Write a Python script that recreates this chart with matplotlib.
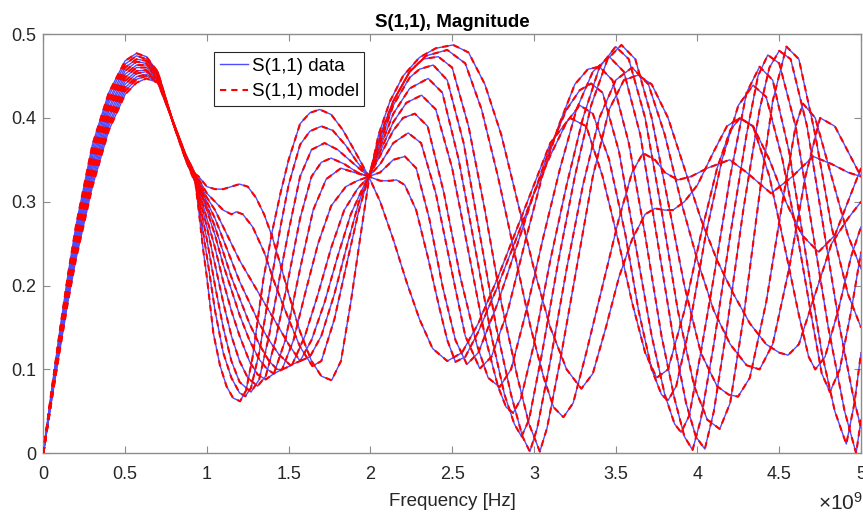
import matplotlib
matplotlib.use("Agg")
import matplotlib.pyplot as plt
from matplotlib.ticker import FuncFormatter, MultipleLocator

plt.rcParams['font.family'] = ['Liberation Sans', 'DejaVu Sans']
plt.rcParams['mathtext.fontset'] = 'custom'
plt.rcParams['mathtext.rm'] = 'Liberation Sans'
plt.rcParams['mathtext.it'] = 'Liberation Sans:italic'

# Frequencies in GHz, |S11| values for each of the eleven cases
f_c0 = [0, .05, .1, .15, .2, .3, .4, .5, .57, .63, .7, .8, .87, .93, .95, .978, 1.0, 1.04, 1.08, 1.12, 1.16, 1.203, 1.24, 1.28, 1.345, 1.4, 1.45, 1.5, 1.57, 1.63, 1.69, 1.76, 1.83, 1.9, 1.99, 2.06, 2.14, 2.22, 2.3, 2.38, 2.47, 2.56, 2.66, 2.78, 2.9, 3.0, 3.1, 3.22, 3.32, 3.42, 3.52, 3.6, 3.68, 3.75, 3.82, 3.92, 4.02, 4.12, 4.2, 4.26, 4.34, 4.44, 4.54, 4.62, 4.68, 4.72, 4.78, 4.86, 4.94, 5.0]
s_c0 = [0, .074, .145, .212, .272, .368, .430, .468, .477, .473, .455, .39, .35, .322, .29, .242, .21, .143, .105, .08, .066, .062, .075, .115, .207, .265, .31, .35, .393, .406, .41, .404, .386, .362, .33, .30, .255, .205, .16, .125, .11, .12, .155, .21, .27, .32, .37, .40, .39, .33, .25, .18, .12, .09, .1, .17, .26, .34, .385, .40, .39, .33, .24, .165, .115, .10, .115, .17, .235, .27]

f_c1 = [0, .05, .1, .15, .2, .3, .4, .5, .57, .63, .7, .8, .87, .93, .95, 1.0, 1.05, 1.1, 1.15, 1.2, 1.235, 1.27, 1.32, 1.38, 1.45, 1.5, 1.57, 1.63, 1.70, 1.77, 1.85, 1.92, 1.99, 2.06, 2.12, 2.16, 2.21, 2.28, 2.35, 2.42, 2.47, 2.52, 2.58, 2.66, 2.78, 2.9, 3.0, 3.1, 3.2, 3.28, 3.36, 3.46, 3.56, 3.64, 3.72, 3.78, 3.82, 3.87, 3.95, 4.05, 4.15, 4.25, 4.34, 4.42, 4.52, 4.62, 4.7, 4.76, 4.81, 4.87, 4.94, 5.0]
s_c1 = [0, .073, .143, .209, .268, .363, .426, .464, .474, .470, .454, .39, .351, .324, .298, .235, .17, .12, .09, .072, .068, .078, .12, .19, .27, .32, .368, .384, .39, .385, .367, .347, .33, .325, .325, .326, .32, .29, .235, .175, .135, .109, .115, .145, .2, .26, .31, .355, .395, .415, .405, .35, .26, .17, .1, .07, .063, .08, .15, .26, .35, .415, .439, .425, .35, .25, .16, .095, .073, .1, .17, .24]

f_c2 = [0, .05, .1, .15, .2, .3, .4, .5, .57, .63, .7, .8, .87, .93, .95, 1.0, 1.05, 1.1, 1.15, 1.2, 1.27, 1.32, 1.38, 1.45, 1.5, 1.57, 1.64, 1.72, 1.8, 1.9, 1.99, 2.06, 2.14, 2.211, 2.28, 2.36, 2.44, 2.52, 2.59, 2.66, 2.78, 2.9, 3.0, 3.1, 3.2, 3.28, 3.35, 3.42, 3.52, 3.62, 3.72, 3.8, 3.86, 3.90, 3.95, 4.02, 4.1, 4.2, 4.3, 4.38, 4.46, 4.56, 4.66, 4.76, 4.84, 4.91, 4.96, 5.0]
s_c2 = [0, .072, .140, .206, .264, .358, .421, .460, .470, .468, .452, .39, .352, .325, .305, .255, .2, .15, .11, .085, .073, .088, .14, .215, .265, .33, .362, .37, .362, .345, .33, .335, .35, .354, .34, .28, .2, .135, .106, .12, .18, .25, .31, .365, .41, .433, .441, .43, .36, .25, .14, .07, .035, .025, .045, .12, .21, .33, .43, .461, .445, .36, .24, .12, .05, .011, .06, .12]

f_c3 = [0, .05, .1, .15, .2, .3, .4, .5, .57, .63, .7, .8, .87, .93, .95, 1.0, 1.05, 1.1, 1.15, 1.2, 1.25, 1.31, 1.36, 1.42, 1.5, 1.57, 1.64, 1.7, 1.76, 1.84, 1.92, 1.99, 2.06, 2.14, 2.231, 2.31, 2.4, 2.5, 2.58, 2.669, 2.74, 2.84, 2.95, 3.05, 3.15, 3.25, 3.33, 3.40, 3.48, 3.58, 3.68, 3.78, 3.86, 3.92, 3.97, 4.02, 4.1, 4.2, 4.3, 4.37, 4.43, 4.5, 4.6, 4.7, 4.8, 4.9, 4.97, 5.0]
s_c3 = [0, .070, .138, .202, .260, .353, .417, .456, .467, .465, .451, .391, .353, .326, .31, .27, .225, .18, .14, .11, .09, .08, .092, .135, .21, .28, .33, .347, .352, .345, .335, .33, .345, .37, .382, .37, .31, .215, .14, .101, .115, .17, .255, .33, .39, .44, .458, .461, .445, .37, .26, .14, .065, .02, .004, .04, .13, .26, .38, .45, .475, .465, .39, .27, .15, .05, .0, .04]

f_c4 = [0, .05, .1, .15, .2, .3, .4, .5, .57, .63, .7, .8, .87, .93, .95, 1.0, 1.05, 1.1, 1.15, 1.2, 1.26, 1.31, 1.36, 1.41, 1.48, 1.57, 1.65, 1.73, 1.82, 1.9, 1.99, 2.06, 2.14, 2.2, 2.272, 2.35, 2.45, 2.55, 2.65, 2.72, 2.79, 2.86, 2.96, 3.06, 3.16, 3.26, 3.36, 3.46, 3.55, 3.65, 3.75, 3.85, 3.93, 3.99, 4.045, 4.1, 4.18, 4.28, 4.38, 4.44, 4.5, 4.57, 4.67, 4.77, 4.87, 4.95, 5.0]
s_c4 = [0, .069, .136, .199, .256, .348, .412, .452, .463, .463, .450, .391, .353, .327, .315, .28, .245, .205, .17, .14, .11, .094, .088, .095, .135, .22, .29, .327, .34, .335, .33, .355, .385, .4, .405, .39, .31, .21, .13, .09, .079, .1, .175, .26, .34, .41, .455, .473, .455, .38, .26, .14, .06, .02, .005, .05, .15, .29, .41, .46, .48, .47, .39, .27, .15, .07, .03]

f_c5 = [0, .05, .1, .15, .2, .3, .4, .5, .57, .63, .7, .8, .87, .93, .95, 1.0, 1.05, 1.1, 1.15, 1.2, 1.26, 1.32, 1.37, 1.41, 1.46, 1.53, 1.6, 1.68, 1.76, 1.85, 1.92, 1.99, 2.06, 2.14, 2.22, 2.313, 2.4, 2.5, 2.6, 2.7, 2.78, 2.83, 2.873, 2.92, 3.0, 3.1, 3.2, 3.3, 3.4, 3.5, 3.58, 3.68, 3.78, 3.88, 3.98, 4.06, 4.136, 4.2, 4.28, 4.38, 4.46, 4.544, 4.62, 4.72, 4.82, 4.92, 5.0]
s_c5 = [0, .068, .134, .196, .252, .343, .408, .448, .460, .460, .449, .391, .354, .328, .318, .29, .26, .225, .195, .165, .135, .112, .1, .095, .1, .135, .19, .25, .295, .318, .325, .33, .36, .395, .418, .427, .41, .34, .24, .14, .08, .055, .048, .065, .13, .23, .32, .4, .46, .485, .47, .4, .29, .17, .08, .04, .029, .06, .16, .31, .42, .485, .47, .38, .27, .19, .15]

f_c6 = [0, .05, .1, .15, .2, .3, .4, .5, .57, .63, .7, .8, .87, .93, .95, 1.0, 1.05, 1.1, 1.15, 1.2, 1.26, 1.32, 1.38, 1.43, 1.46, 1.52, 1.6, 1.68, 1.76, 1.84, 1.92, 1.99, 2.06, 2.14, 2.24, 2.353, 2.44, 2.54, 2.64, 2.74, 2.82, 2.88, 2.924, 2.97, 3.05, 3.15, 3.25, 3.35, 3.45, 3.535, 3.62, 3.72, 3.82, 3.92, 4.02, 4.12, 4.19, 4.248, 4.32, 4.42, 4.52, 4.6, 4.645, 4.72, 4.82, 4.92, 5.0]
s_c6 = [0, .067, .131, .193, .248, .338, .403, .444, .456, .457, .447, .391, .354, .329, .32, .295, .27, .24, .21, .185, .155, .13, .11, .1, .1, .105, .14, .19, .245, .29, .315, .33, .365, .405, .435, .447, .43, .35, .245, .14, .07, .035, .02, .04, .12, .23, .33, .415, .47, .487, .47, .4, .3, .2, .12, .08, .07, .0675, .09, .18, .3, .39, .417, .4, .33, .26, .22]

f_c7 = [0, .05, .1, .15, .2, .3, .4, .5, .57, .63, .7, .8, .87, .93, .95, 1.0, 1.05, 1.1, 1.15, 1.2, 1.26, 1.32, 1.38, 1.44, 1.51, 1.57, 1.64, 1.72, 1.8, 1.88, 1.95, 1.99, 2.06, 2.14, 2.24, 2.3, 2.384, 2.47, 2.57, 2.67, 2.77, 2.86, 2.93, 2.975, 3.02, 3.1, 3.2, 3.3, 3.4, 3.5, 3.6, 3.7, 3.8, 3.9, 4.0, 4.1, 4.2, 4.3, 4.38, 4.46, 4.56, 4.66, 4.75, 4.84, 4.92, 5.0]
s_c7 = [0, .066, .129, .190, .244, .333, .399, .440, .453, .455, .446, .391, .355, .33, .322, .3, .28, .255, .23, .205, .18, .155, .135, .118, .105, .11, .135, .18, .235, .285, .315, .33, .37, .415, .448, .458, .463, .445, .37, .26, .15, .07, .02, .002, .03, .11, .22, .32, .4, .445, .46, .44, .38, .3, .23, .17, .13, .105, .1, .13, .22, .33, .40, .39, .36, .33]

f_c8 = [0, .05, .1, .15, .2, .3, .4, .5, .57, .63, .7, .8, .87, .93, .95, 1.0, 1.05, 1.1, 1.15, 1.2, 1.26, 1.32, 1.38, 1.44, 1.5, 1.57, 1.63, 1.7, 1.78, 1.86, 1.93, 1.99, 2.06, 2.14, 2.24, 2.32, 2.415, 2.5, 2.6, 2.7, 2.8, 2.9, 2.97, 3.036, 3.08, 3.16, 3.26, 3.36, 3.46, 3.55, 3.637, 3.72, 3.82, 3.92, 4.02, 4.12, 4.22, 4.32, 4.42, 4.5, 4.554, 4.62, 4.72, 4.82, 4.92, 5.0]
s_c8 = [0, .064, .127, .186, .240, .328, .394, .436, .449, .452, .445, .392, .355, .331, .324, .305, .29, .27, .25, .23, .21, .19, .17, .15, .13, .11, .115, .14, .19, .25, .3, .33, .375, .42, .455, .47, .473, .46, .39, .29, .18, .09, .035, .002, .03, .11, .22, .33, .41, .445, .451, .44, .4, .34, .28, .23, .19, .155, .13, .12, .117, .13, .19, .25, .28, .3]

f_c9 = [0, .05, .1, .15, .2, .3, .4, .5, .57, .63, .7, .8, .87, .93, .95, 1.0, 1.05, 1.1, 1.15, 1.18, 1.22, 1.28, 1.35, 1.42, 1.5, 1.57, 1.645, 1.7, 1.78, 1.86, 1.93, 1.99, 2.06, 2.14, 2.24, 2.34, 2.47, 2.58, 2.68, 2.78, 2.88, 2.98, 3.06, 3.12, 3.18, 3.24, 3.32, 3.42, 3.52, 3.6, 3.667, 3.74, 3.8, 3.88, 3.96, 4.06, 4.197, 4.3, 4.45, 4.58, 4.707, 4.82, 4.92, 5.0]
s_c9 = [0, .063, .124, .183, .236, .323, .390, .432, .446, .450, .443, .392, .356, .332, .327, .31, .3, .29, .285, .288, .285, .27, .24, .2, .16, .127, .104, .11, .16, .23, .29, .33, .38, .42, .455, .474, .481, .465, .41, .33, .24, .15, .09, .055, .043, .06, .12, .2, .28, .335, .358, .35, .335, .326, .33, .34, .35, .335, .31, .33, .354, .345, .335, .33]

f_c10 = [0, .05, .1, .15, .2, .3, .4, .5, .57, .63, .7, .8, .87, .93, .95, 1.0, 1.05, 1.1, 1.15, 1.2, 1.25, 1.3, 1.35, 1.4, 1.45, 1.5, 1.57, 1.64, 1.7, 1.763, 1.82, 1.88, 1.94, 1.99, 2.05, 2.12, 2.2, 2.3, 2.4, 2.506, 2.6, 2.7, 2.8, 2.9, 3.0, 3.1, 3.2, 3.29, 3.36, 3.44, 3.52, 3.6, 3.68, 3.74, 3.8, 3.85, 3.92, 4.0, 4.1, 4.18, 4.258, 4.34, 4.44, 4.54, 4.64, 4.74, 4.84, 4.92, 5.0]
s_c10 = [0, .062, .122, .180, .232, .318, .385, .428, .442, .447, .442, .392, .356, .333, .33, .318, .315, .315, .318, .321, .318, .305, .285, .258, .225, .19, .145, .11, .092, .087, .11, .18, .26, .325, .38, .42, .45, .472, .483, .487, .478, .44, .38, .3, .22, .15, .1, .077, .095, .15, .21, .255, .285, .292, .29, .29, .3, .32, .36, .39, .40, .39, .35, .3, .26, .24, .26, .3, .34]

CASES = [(f_c0, s_c0), (f_c1, s_c1), (f_c2, s_c2), (f_c3, s_c3), (f_c4, s_c4),
         (f_c5, s_c5), (f_c6, s_c6), (f_c7, s_c7), (f_c8, s_c8), (f_c9, s_c9),
         (f_c10, s_c10)]

fig = plt.figure(figsize=(8.63, 5.13), dpi=100)
ax = fig.add_axes([0.0502, 0.1164, 0.9475, 0.8173])

# measured data (solid blue) under the fitted model (dashed red)
for i, (fg, s) in enumerate(CASES):
    fh = [v * 1e9 for v in fg]
    ax.plot(fh, s, color=(0.3, 0.3, 1.0), lw=1.0, solid_joinstyle='round',
            label="S(1,1) data" if i == 0 else None, zorder=2)
for i, (fg, s) in enumerate(CASES):
    fh = [v * 1e9 for v in fg]
    ax.plot(fh, s, color=(1.0, 0.0, 0.0), lw=1.5, ls=(0, (3.0, 2.4)),
            label="S(1,1) model" if i == 0 else None, zorder=3)

ax.set_xlim(0, 5e9)
ax.set_ylim(0, 0.5)
ax.xaxis.set_major_locator(MultipleLocator(0.5e9))
ax.yaxis.set_major_locator(MultipleLocator(0.1))
ax.xaxis.set_major_formatter(FuncFormatter(lambda v, p: f"{v / 1e9:g}"))
ax.yaxis.set_major_formatter(FuncFormatter(lambda v, p: f"{v:g}"))

gray = (0.15, 0.15, 0.15)
for sp in ax.spines.values():
    sp.set_color((0.55, 0.55, 0.55))
    sp.set_linewidth(1.0)
ax.tick_params(direction='in', top=True, right=True, length=5, width=0.8,
               colors=(0.55, 0.55, 0.55), labelcolor=gray, labelsize=13)
ax.tick_params(axis='x', pad=9)
ax.tick_params(axis='y', pad=5)

ax.set_title("S(1,1), Magnitude", fontsize=13.5, fontweight='bold',
             color='black', pad=5)
ax.set_xlabel("Frequency [Hz]", fontsize=13.5, color=gray, labelpad=7)
fig.text(0.9995, 0.006, r"$\times\mathregular{10}^{\mathregular{9}}$",
         ha='right', va='baseline', fontsize=15, color=gray)

leg = ax.legend(loc='upper left', bbox_to_anchor=(0.2088, 0.957),
                frameon=True, fancybox=False, framealpha=1.0,
                handlelength=1.5, handletextpad=0.2, borderpad=0.3,
                borderaxespad=0.0, labelspacing=0.45, prop={'size': 13.5})
leg.get_frame().set_edgecolor((0.15, 0.15, 0.15))
leg.get_frame().set_linewidth(0.8)

fig.savefig("out.png", dpi=100)
